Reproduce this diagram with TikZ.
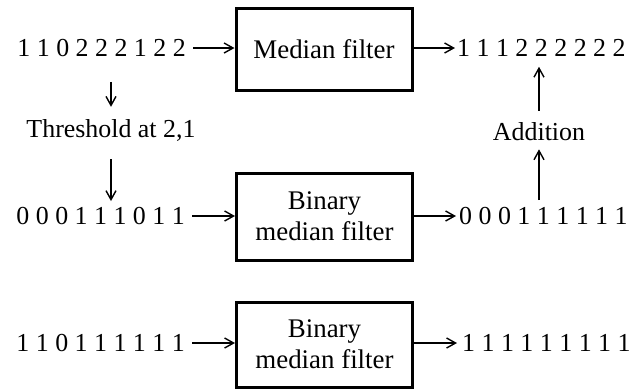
\documentclass[tikz,border=0pt]{standalone}
\usepackage{fontspec}
\setmainfont{Liberation Serif}
\usetikzlibrary{arrows.meta}
\begin{document}
\begin{tikzpicture}[x=1bp,y=-1bp,
  txt/.style={inner sep=0pt, font=\fontsize{26}{30}\selectfont},
  filt/.style={draw, line width=3bp, minimum width=176bp, minimum height=84bp,
    align=center, inner sep=0pt, font=\fontsize{27}{31}\selectfont},
  arr/.style={line width=1.4bp, -{Straight Barb[length=9bp,width=10bp,line width=1.4bp]}}]
\useasboundingbox (0,0) rectangle (636,390);
% filters
\node[filt, minimum height=82bp] (m) at (324,49) {Median filter};
\node[filt, minimum height=87bp] (b1) at (324.5,216.5) {Binary\\median filter};
\node[filt, minimum height=85bp] (b2) at (324.5,344.5) {Binary\\median filter};
% sequences
\node[txt, anchor=east] (in1) at (186,48) {1 1 0 2 2 2 1 2 2};
\node[txt, anchor=east] (in2) at (185,216) {0 0 0 1 1 1 0 1 1};
\node[txt, anchor=east] (in3) at (185,343) {1 1 0 1 1 1 1 1 1};
\node[txt, anchor=west] (out1) at (457,48) {1 1 1 2 2 2 2 2 2};
\node[txt, anchor=west] (out2) at (459,216) {0 0 0 1 1 1 1 1 1};
\node[txt, anchor=west] (out3) at (462,343) {1 1 1 1 1 1 1 1 1};
% labels
\node[txt] (thr) at (111,130) {Threshold at 2,1};
\node[txt] (add) at (539,132) {Addition};
% horizontal arrows
\draw[arr, shorten <=7bp] (in1.east) -- (m.west |- in1.east);
\draw[arr, shorten <=7bp] (in2.east) -- (b1.west |- in2.east);
\draw[arr, shorten <=7bp] (in3.east) -- (b2.west |- in3.east);
\draw[arr, shorten >=2bp] (m.east |- out1.west) -- (out1.west);
\draw[arr, shorten >=3bp] (b1.east |- out2.west) -- (out2.west);
\draw[arr, shorten >=5bp] (b2.east |- out3.west) -- (out3.west);
% vertical arrows
\draw[arr, shorten <=25bp, shorten >=12bp] (thr.north |- in1.south) -- (thr.north);
\draw[arr, shorten <=18bp, shorten >=6bp] (thr.south) -- (thr.south |- in2.north);
\draw[arr, shorten <=7bp, shorten >=8bp] (add.south |- out2.north) -- (add.south);
\draw[arr, shorten <=12bp, shorten >=10bp] (add.north) -- (add.north |- out1.south);
\end{tikzpicture}
\end{document}
